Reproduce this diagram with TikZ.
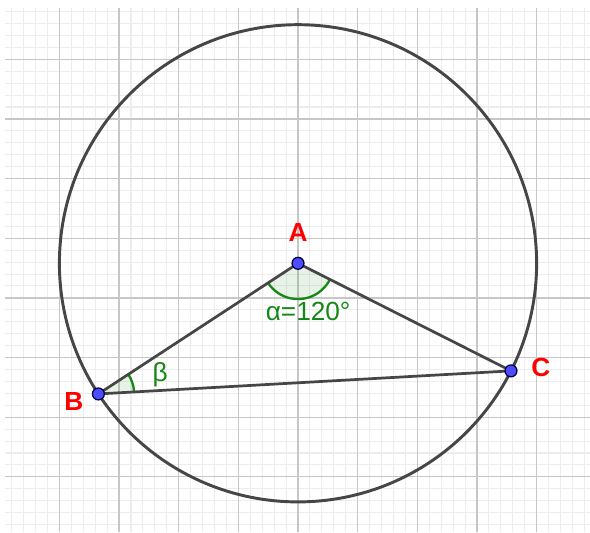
\documentclass[tikz,border=0pt]{standalone}
\usepackage{fontspec}
\setmainfont{Liberation Sans}
\usepackage{tikz}
\usetikzlibrary{angles, calc}
\definecolor{ggred}{RGB}{255,0,0}
\definecolor{gggreen}{RGB}{20,135,20}
\definecolor{ggblue}{RGB}{77,77,255}
\definecolor{ggline}{RGB}{70,70,70}

\begin{document}
\begin{tikzpicture}[
        % Define styles
        minorgrid/.style={draw=black!7, line width=0.5pt},
        majorgrid/.style={draw=black!22, line width=0.6pt},
        circ/.style={draw=ggline, line width=1.4pt},
        side/.style={draw=ggline, line width=1.3pt},
        point/.style={circle, draw=black!75!blue, fill=ggblue, line width=0.6pt, minimum size=0.2cm, inner sep=0pt},
        ptlabel/.style={font=\fontsize{12.5}{15}\selectfont\bfseries, text=ggred},
        anglemark/.style={draw=gggreen, line width=1.1pt, fill=gggreen, fill opacity=0.1, angle radius=0.6cm},
        anglelabel/.style={font=\fontsize{12.5}{15}\selectfont, text=gggreen}
    ]

    \useasboundingbox (-4.996,-4.505) rectangle (4.895,4.414);

    % --- Grid ---
    % minor lines every 0.2, major lines every 1 (rows shifted by 0.42)
    \foreach \i in {-24,...,24}
        \draw[minorgrid] (\i/5,-4.505) -- (\i/5,4.288);
    \foreach \j in {-24,...,19}
        \draw[minorgrid] (-4.912,0.42+\j/5) -- (4.895,0.42+\j/5);
    \foreach \i in {-4,...,4}
        \draw[majorgrid] (\i,-4.505) -- (\i,4.288);
    \foreach \j in {-4,...,3}
        \draw[majorgrid] (-4.912,0.42+\j) -- (4.895,0.42+\j);

    % --- Points ---
    \coordinate (A) at (0,0);
    \coordinate (B) at (213.2:4);
    \coordinate (C) at (333.2:4);

    % Circle through B and C
    \draw[circ] (A) circle[radius=4];

    % --- Angles ---
    \pic[anglemark] {angle=B--A--C};
    \pic[anglemark] {angle=C--B--A};

    % --- Sides ---
    \draw[side] (A) -- (B);
    \draw[side] (A) -- (C);
    \draw[side] (B) -- (C);

    % Dots on top
    \node[point] (pA) at (A) {};
    \node[point] (pB) at (B) {};
    \node[point] (pC) at (C) {};

    % --- Labels ---
    \node[ptlabel] (labA) at (0,0.51) {A};
    \node[ptlabel] (labB) at (-3.76,-2.31) {B};
    \node[ptlabel] (labC) at (4.07,-1.75) {C};
    \node[anglelabel] (alpha) at (0.17,-0.81) {α=120°};
    \node[anglelabel] (beta) at (-2.31,-1.86) {β};

\end{tikzpicture}
\end{document}
